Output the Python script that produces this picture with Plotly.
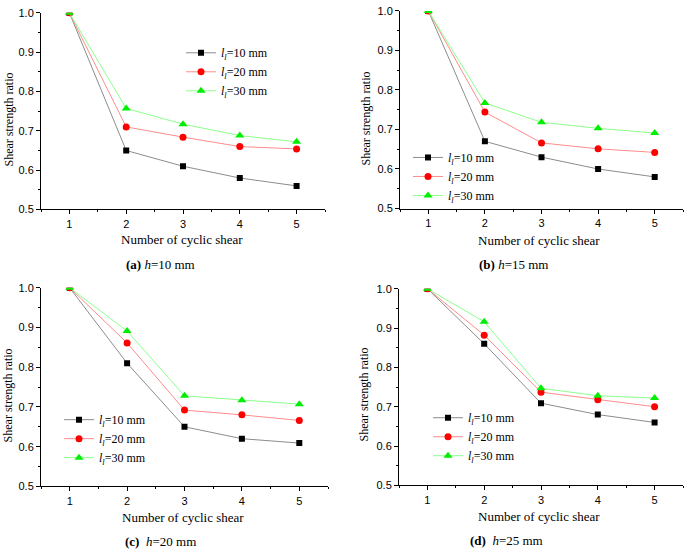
import plotly.graph_objects as go
from plotly.subplots import make_subplots

cycles = [1, 2, 3, 4, 5]
series_names = ["<i>l</i><sub><i>l</i></sub>=10 mm", "<i>l</i><sub><i>l</i></sub>=20 mm", "<i>l</i><sub><i>l</i></sub>=30 mm"]
captions = ["<b>(a)</b> <i>h</i>=10 mm", "<b>(b)</b> <i>h</i>=15 mm",
            "<b>(c)</b>  <i>h</i>=20 mm", "<b>(d)</b>  <i>h</i>=25 mm"]

# shear strength ratio, per panel (h), per joint length l
h10_l10 = [1.0, 0.65, 0.61, 0.58, 0.56]
h10_l20 = [1.0, 0.71, 0.684, 0.66, 0.654]
h10_l30 = [1.0, 0.757, 0.717, 0.688, 0.672]

h15_l10 = [1.0, 0.67, 0.63, 0.60, 0.58]
h15_l20 = [1.0, 0.744, 0.666, 0.651, 0.642]
h15_l30 = [1.0, 0.767, 0.718, 0.703, 0.691]

h20_l10 = [1.0, 0.81, 0.65, 0.62, 0.609]
h20_l20 = [1.0, 0.861, 0.692, 0.68, 0.666]
h20_l30 = [1.0, 0.891, 0.728, 0.717, 0.707]

h25_l10 = [1.0, 0.86, 0.709, 0.68, 0.66]
h25_l20 = [1.0, 0.882, 0.737, 0.718, 0.70]
h25_l30 = [1.0, 0.916, 0.747, 0.728, 0.722]

panels = [[h10_l10, h10_l20, h10_l30], [h15_l10, h15_l20, h15_l30],
          [h20_l10, h20_l20, h20_l30], [h25_l10, h25_l20, h25_l30]]

line_cols = ["#8c8c8c", "#ff8c8c", "#8cff8c"]
mark_cols = ["#000000", "#ff0000", "#00ee00"]
symbols = ["square", "circle", "triangle-up"]
msizes = [6, 7, 8]

W, H = 685, 554
serif = "Liberation Serif, Times New Roman, serif"
sans = "Liberation Sans, Arial, sans-serif"

fig = make_subplots(rows=2, cols=2)

# plot areas in pixels: left, right, top, bottom
boxes = [(41, 325, 7, 208), (400, 683, 5, 207), (41, 328, 288, 491), (399, 683, 289, 490)]
legend_pos = [(181, 33), (408, 140), (59, 408), (428, 406)]
ytitle_pos = [(9, 116), (366, 115), (8, 398), (364, 397)]
xtitle_pos = [(182, 239), (539, 240), (183, 523), (539, 522)]
cap_pos = [(160, 264), (513, 264), (160, 547), (506, 546)]

legends = ["legend", "legend2", "legend3", "legend4"]
for p, data in enumerate(panels):
    r, c = p // 2 + 1, p % 2 + 1
    for k, vals in enumerate(data):
        fig.add_trace(go.Scatter(
            x=cycles, y=vals, name=series_names[k], mode="lines+markers",
            line=dict(color=line_cols[k], width=1),
            marker=dict(symbol=symbols[k], size=msizes[k], color=mark_cols[k]),
            legend=legends[p]), row=r, col=c)
    l, rr, t, b = boxes[p]
    ax = "" if p == 0 else str(p + 1)
    fig.layout["xaxis" + ax].update(
        domain=[l / W, rr / W], range=[0.5, 5.5], tickvals=cycles,
        showline=True, linecolor="black", linewidth=1, ticks="outside", ticklen=4,
        tickcolor="black", showgrid=False, zeroline=False,
        minor=dict(ticks="outside", ticklen=2, dtick=0.5, tickcolor="black", tick0=0.5),
        tickfont=dict(family=sans, size=11, color="black"))
    fig.layout["yaxis" + ax].update(
        domain=[1 - b / H, 1 - t / H], range=[0.5, 1.0], tickvals=[0.5, 0.6, 0.7, 0.8, 0.9, 1.0],
        ticktext=["0.5", "0.6", "0.7", "0.8", "0.9", "1.0"],
        showline=True, linecolor="black", linewidth=1, ticks="outside", ticklen=4,
        tickcolor="black", showgrid=False, zeroline=False,
        minor=dict(ticks="outside", ticklen=2, dtick=0.05, tickcolor="black"),
        tickfont=dict(family=sans, size=11, color="black"))
    lx, ly = legend_pos[p]
    fig.layout[legends[p]] = dict(
        x=lx / W, y=1 - ly / H, xanchor="left", yanchor="top", bgcolor="rgba(0,0,0,0)",
        font=dict(family=serif, size=12, color="black"), itemwidth=30,
        tracegroupgap=0)
    yx, yy = ytitle_pos[p]
    fig.add_annotation(x=yx / W, y=1 - yy / H, xref="paper", yref="paper", text="Shear strength ratio",
                       xanchor="center", yanchor="middle",
                       textangle=-90, showarrow=False, font=dict(family=serif, size=12, color="black"))
    xx, xy = xtitle_pos[p]
    fig.add_annotation(x=xx / W, y=1 - xy / H, xref="paper", yref="paper", text="Number of cyclic shear",
                       xanchor="center", yanchor="middle",
                       showarrow=False, font=dict(family=serif, size=13, color="black"))
    cx, cy = cap_pos[p]
    fig.add_annotation(x=cx / W, y=1 - cy / H, xref="paper", yref="paper", text=captions[p],
                       xanchor="center", yanchor="middle",
                       showarrow=False, font=dict(family=serif, size=13, color="black"))

fig.update_layout(width=W, height=H, margin=dict(l=0, r=0, t=0, b=0),
                  plot_bgcolor="white", paper_bgcolor="white", showlegend=True)

# drop the browser's default page margin so the figure sits at the window's corner
page_fix = ("document.documentElement.style.margin='0';document.body.style.margin='0';"
            "document.body.style.padding='0';document.body.style.overflow='hidden';")
fig.write_html("out.html", config={"displayModeBar": False}, post_script=page_fix)
